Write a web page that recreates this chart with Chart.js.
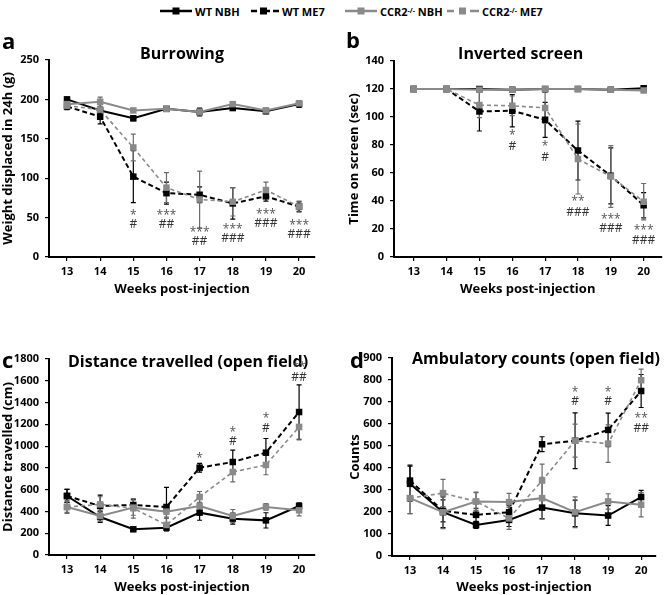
<!DOCTYPE html>
<html>
<head>
<meta charset="utf-8">
<script src="https://cdn.jsdelivr.net/npm/chart.js@4.4.0/dist/chart.umd.min.js"></script>
<style>
  body { margin: 0; background: #fff; }
  #wrap { position: relative; width: 666px; height: 595px; overflow: hidden; font-family: "Open Sans", sans-serif; }
  canvas { position: absolute; }
  .leg { position: absolute; top: 3px; height: 16px; display: flex; align-items: center; font-size: 11px; font-weight: bold; color: #000; white-space: nowrap; }
  .leg svg { margin-right: 3px; }
  .leg sup { font-size: 7px; vertical-align: 4px; line-height: 0; }
</style>
</head>
<body>
<div id="wrap">
  <div class="leg" style="left:160px"><svg width="32" height="10"><line x1="0" y1="5" x2="32" y2="5" stroke="#000" stroke-width="2.5"/><rect x="12.5" y="1.5" width="7" height="7" fill="#000"/></svg>WT NBH</div>
  <div class="leg" style="left:251px"><svg width="28" height="10"><line x1="0" y1="5" x2="6" y2="5" stroke="#000" stroke-width="2.5"/><line x1="9" y1="5" x2="28" y2="5" stroke="#000" stroke-width="2.5" stroke-dasharray="10 3 6"/><rect x="9" y="1.5" width="7" height="7" fill="#000"/></svg>WT ME7</div>
  <div class="leg" style="left:345px"><svg width="32" height="10"><line x1="0" y1="5" x2="32" y2="5" stroke="#8a8a8a" stroke-width="2.5"/><rect x="12.5" y="1.5" width="7" height="7" fill="#8a8a8a"/></svg>CCR2<sup>-/-</sup>&nbsp;NBH</div>
  <div class="leg" style="left:447px"><svg width="32" height="10"><line x1="0" y1="5" x2="7" y2="5" stroke="#8a8a8a" stroke-width="2.5"/><rect x="12" y="1.5" width="7" height="7" fill="#8a8a8a"/><line x1="23" y1="5" x2="32" y2="5" stroke="#8a8a8a" stroke-width="2.5"/></svg>CCR2<sup>-/-</sup>&nbsp;ME7</div>

  <canvas id="pa" width="333" height="272" style="left:0;top:28px;width:333px;height:272px"></canvas>
  <canvas id="pb" width="333" height="272" style="left:333px;top:28px;width:333px;height:272px"></canvas>
  <canvas id="pc" width="333" height="265" style="left:0;top:330px;width:333px;height:265px"></canvas>
  <canvas id="pd" width="333" height="265" style="left:333px;top:330px;width:333px;height:265px"></canvas>
</div>
<script>
const weeks = [13, 14, 15, 16, 17, 18, 19, 20];

// a - Burrowing (g)
const burWtNbh = [200, 186, 176, 188, 184, 189, 185, 194];
const burWtNbhErr = [3, 5, 3, 3, 5, 3, 3, 4];
const burWtMe7 = [191, 178, 102, 81, 79, 68, 77, 64];
const burWtMe7Err = [4, 9, 33, 14, 10, 20, 6, 6];
const burKoNbh = [194, 197, 186, 188, 184, 194, 186, 195];
const burKoNbhErr = [3, 6, 2, 3, 4, 3, 3, 3];
const burKoMe7 = [192, 187, 139, 88, 73, 70, 85, 64];
const burKoMe7Err = [4, 6, 17, 19, 36, 18, 10, 7];
const burStar = ['', '', '*', '***', '***', '***', '***', '***'];
const burStarY = [null, null, 55, 55, 33, 37, 56, 43];
const burHash = ['', '', '#', '##', '##', '###', '###', '###'];
const burHashY = [null, null, 41, 41, 19, 23, 42, 29];

// b - Inverted screen (sec)
const invWtNbh = [120, 120, 120, 119.5, 120, 120, 119.5, 120.5];
const invWtNbhErr = [0, 0, 1, 1, 0, 0, 1, 1];
const invWtMe7 = [120, 120, 104, 104.5, 98, 76, 58, 37];
const invWtMe7Err = [0, 0, 14, 11.5, 12.5, 21, 20, 9];
const invKoNbh = [120, 120, 119.5, 119.5, 120, 120, 119.5, 119];
const invKoNbhErr = [0, 0, 1, 1, 1, 0, 1, 1];
const invKoMe7 = [120, 120, 108.5, 108, 106.5, 70, 57.5, 39.5];
const invKoMe7Err = [0, 0, 9, 7, 11, 25, 22, 13];
const invStar = ['', '', '', '*', '*', '**', '***', '***'];
const invStarY = [null, null, null, 88, 80, 41, 28, 20];
const invHash = ['', '', '', '#', '#', '###', '###', '###'];
const invHashY = [null, null, null, 79, 71, 32, 20, 12];

// c - Distance travelled (cm)
const disWtNbh = [542, 349, 236, 251, 389, 334, 318, 450];
const disWtNbhErr = [60, 50, 15, 30, 70, 50, 70, 30];
const disWtMe7 = [542, 450, 459, 441, 802, 854, 940, 1313];
const disWtMe7Err = [60, 100, 50, 180, 40, 110, 130, 250];
const disKoNbh = [441, 358, 435, 398, 450, 358, 441, 410];
const disKoNbhErr = [50, 50, 70, 50, 60, 60, 30, 50];
const disKoMe7 = [441, 465, 429, 276, 533, 762, 827, 1176];
const disKoMe7Err = [60, 70, 90, 60, 50, 90, 90, 120];
const disStar = ['', '', '', '', '*', '*', '*', '**'];
const disStarY = [null, null, null, null, 900, 1145, 1268, 1736];
const disHash = ['', '', '', '', '', '#', '#', '##'];
const disHashY = [null, null, null, null, null, 1041, 1163, 1629];

// d - Ambulatory counts
const ambWtNbh = [328, 199, 141, 164, 220, 194, 184, 268];
const ambWtNbhErr = [80, 70, 15, 30, 50, 60, 45, 30];
const ambWtMe7 = [343, 205, 187, 199, 508, 524, 573, 750];
const ambWtMe7Err = [70, 50, 30, 30, 34, 127, 76, 75];
const ambKoNbh = [263, 199, 248, 245, 263, 199, 248, 233];
const ambKoNbhErr = [70, 75, 40, 40, 95, 70, 35, 55];
const ambKoMe7 = [263, 286, 248, 171, 343, 524, 511, 799];
const ambKoMe7Err = [70, 62, 43, 50, 75, 75, 85, 50];
const ambStar = ['', '', '', '', '', '*', '*', '**'];
const ambStarY = [null, null, null, null, null, 752, 752, 634];
const ambHash = ['', '', '', '', '', '#', '#', '##'];
const ambHashY = [null, null, null, null, null, 704, 704, 580];

const FONT = '"Open Sans", sans-serif';
const BLACK = '#000';
const GREY = '#8a8a8a';

// styles for the four groups: WT NBH, WT ME7, CCR2 NBH, CCR2 ME7
// (order: lower number is drawn on top)
const groupStyle = [
  { color: BLACK, width: 2, dash: [], err: '#000', order: 4 },
  { color: BLACK, width: 2, dash: [5, 3], err: '#000', order: 3 },
  { color: GREY, width: 2, dash: [], err: '#6a6a6a', order: 2 },
  { color: GREY, width: 1.6, dash: [4, 3], err: '#6a6a6a', order: 1 }
];

const errorBars = {
  id: 'errorBars',
  beforeDatasetsDraw(chart) {
    const { ctx, scales: { x, y } } = chart;
    chart.data.datasets.forEach((d) => {
      ctx.save();
      ctx.strokeStyle = d.errColor;
      ctx.lineWidth = 1.2;
      d.data.forEach((p, j) => {
        const e = d.err[j];
        if (!e) return;
        const px = x.getPixelForValue(p.x);
        const top = y.getPixelForValue(p.y + e);
        const bot = y.getPixelForValue(p.y - e);
        ctx.beginPath();
        ctx.moveTo(px, top); ctx.lineTo(px, bot);
        ctx.moveTo(px - 2.5, top); ctx.lineTo(px + 2.5, top);
        ctx.moveTo(px - 2.5, bot); ctx.lineTo(px + 2.5, bot);
        ctx.stroke();
      });
      ctx.restore();
    });
  }
};

const decorations = {
  id: 'decorations',
  afterDraw(chart) {
    const o = chart.options.plugins.decorations;
    const { ctx, chartArea, scales: { x, y } } = chart;
    ctx.save();
    // panel letter
    ctx.fillStyle = '#000';
    ctx.font = 'bold 22px ' + FONT;
    ctx.textAlign = 'left';
    ctx.textBaseline = 'alphabetic';
    ctx.fillText(o.letter, o.letterX, o.letterY);
    // panel title
    ctx.font = 'bold 16px ' + FONT;
    ctx.textAlign = 'center';
    ctx.textBaseline = 'middle';
    ctx.fillText(o.title, (chartArea.left + chartArea.right) / 2 + o.titleDx, chartArea.top + o.titleDy);
    // significance marks
    ctx.font = '12px ' + FONT;
    weeks.forEach((w, j) => {
      const px = x.getPixelForValue(w);
      if (o.star[j]) {
        ctx.fillStyle = '#555';
        ctx.fillText(o.star[j], px, y.getPixelForValue(o.starY[j]) + 2);
      }
      if (o.hash[j]) {
        ctx.fillStyle = '#333';
        ctx.fillText(o.hash[j], px, y.getPixelForValue(o.hashY[j]));
      }
    });
    ctx.restore();
  }
};

function makePanel(id, p) {
  const datasets = p.series.map((s, i) => ({
    data: weeks.map((w, j) => ({ x: w, y: s[j] })),
    err: p.errs[i],
    errColor: groupStyle[i].err,
    order: groupStyle[i].order,
    borderColor: groupStyle[i].color,
    backgroundColor: groupStyle[i].color,
    borderWidth: groupStyle[i].width,
    borderDash: groupStyle[i].dash,
    pointStyle: 'rect',
    pointRadius: 4.6,
    pointBorderWidth: 0,
    tension: 0
  }));
  new Chart(document.getElementById(id), {
    type: 'line',
    data: { datasets },
    plugins: [errorBars, decorations],
    options: {
      responsive: false,
      animation: false,
      layout: { padding: { left: p.padL, right: p.padR, top: p.padT, bottom: 0 } },
      plugins: {
        legend: { display: false },
        tooltip: { enabled: false },
        decorations: p.deco
      },
      scales: {
        x: {
          type: 'linear',
          min: p.xMin,
          max: p.xMax,
          afterBuildTicks: (s) => { s.ticks = weeks.map(v => ({ value: v })); },
          afterFit: (s) => { s.height = p.xH; },
          grid: { drawOnChartArea: false, tickLength: 4, color: '#000', tickColor: '#000', lineWidth: 1.2 },
          border: { color: '#000', width: 2 },
          ticks: { color: '#000', font: { family: FONT, size: 11, weight: 'bold' }, padding: 4, maxRotation: 0, autoSkip: false },
          title: { display: true, text: 'Weeks post-injection', color: '#000', font: { family: FONT, size: 13, weight: 'bold' }, padding: { top: 0, bottom: p.xTitlePad } }
        },
        y: {
          min: 0,
          max: p.yMax,
          afterFit: (s) => { s.width = p.yW; },
          grid: { drawOnChartArea: false, tickLength: 4, color: '#000', tickColor: '#000', lineWidth: 1.2 },
          border: { color: '#000', width: 2 },
          ticks: { stepSize: p.yStep, color: '#000', font: { family: FONT, size: 11, weight: 'bold' }, padding: 6, callback: (v) => String(v) },
          title: { display: true, text: p.yTitle, color: '#000', font: { family: FONT, size: 13, weight: 'bold' }, padding: { top: 0, bottom: 0 } }
        }
      }
    }
  });
}

makePanel('pa', {
  series: [burWtNbh, burWtMe7, burKoNbh, burKoMe7],
  errs: [burWtNbhErr, burWtMe7Err, burKoNbhErr, burKoMe7Err],
  yMax: 250, yStep: 50, yTitle: 'Weight displaced in 24h (g)',
  xMin: 12.457, xMax: 20.48,
  padL: 0, yW: 49, padR: 18, padT: 32, xH: 43, xTitlePad: 3,
  deco: { letter: 'a', letterX: 2, letterY: 21, title: 'Burrowing', titleDx: 0, titleDy: -6,
    star: burStar, starY: burStarY, hash: burHash, hashY: burHashY }
});

makePanel('pb', {
  series: [invWtNbh, invWtMe7, invKoNbh, invKoMe7],
  errs: [invWtNbhErr, invWtMe7Err, invKoNbhErr, invKoMe7Err],
  yMax: 140, yStep: 20, yTitle: 'Time on screen (sec)',
  xMin: 12.4, xMax: 20.54,
  padL: 13, yW: 48, padR: 1, padT: 33, xH: 43, xTitlePad: 3,
  deco: { letter: 'b', letterX: 13, letterY: 20, title: 'Inverted screen', titleDx: -7, titleDy: -7,
    star: invStar, starY: invStarY, hash: invHash, hashY: invHashY }
});

makePanel('pc', {
  series: [disWtNbh, disWtMe7, disKoNbh, disKoMe7],
  errs: [disWtNbhErr, disWtMe7Err, disKoNbhErr, disKoMe7Err],
  yMax: 1800, yStep: 200, yTitle: 'Distance travelled (cm)',
  xMin: 12.457, xMax: 20.48,
  padL: 0, yW: 49, padR: 18, padT: 29, xH: 40, xTitlePad: 0,
  deco: { letter: 'c', letterX: 2, letterY: 38, title: 'Distance travelled (open field)', titleDx: 6, titleDy: 3,
    star: disStar, starY: disStarY, hash: disHash, hashY: disHashY }
});

makePanel('pd', {
  series: [ambWtNbh, ambWtMe7, ambKoNbh, ambKoMe7],
  errs: [ambWtNbhErr, ambWtMe7Err, ambKoNbhErr, ambKoMe7Err],
  yMax: 900, yStep: 100, yTitle: 'Counts',
  xMin: 12.455, xMax: 20.45,
  padL: 14, yW: 45, padR: 10, padT: 28, xH: 39, xTitlePad: 0,
  deco: { letter: 'd', letterX: 17, letterY: 38, title: 'Ambulatory counts (open field)', titleDx: 12, titleDy: 1,
    star: ambStar, starY: ambStarY, hash: ambHash, hashY: ambHashY }
});
</script>
</body>
</html>
